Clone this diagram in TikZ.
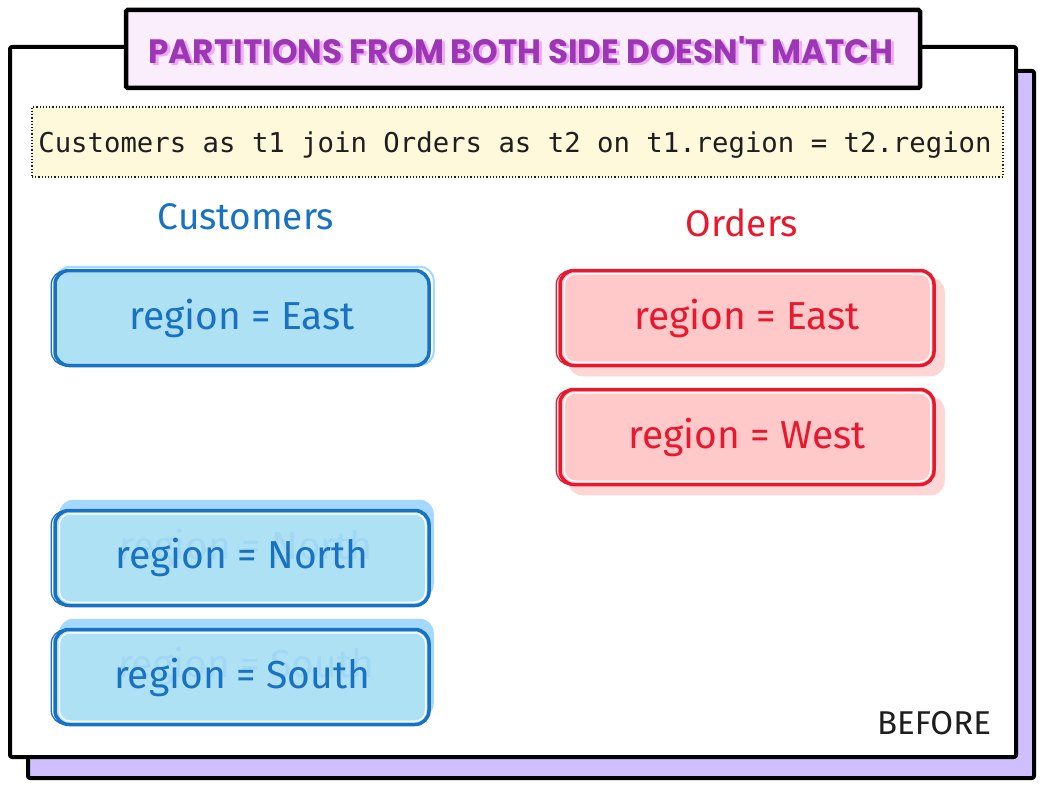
\documentclass[tikz,border=0pt]{standalone}
\usepackage{fontspec}
\setmainfont{Fira Sans}
\newfontfamily\monofont{DejaVu Sans Mono}
\newfontfamily\titlefont{Poppins}
\usetikzlibrary{calc}
\definecolor{violetbg}{HTML}{D0BFFF}
\definecolor{titlebg}{HTML}{FAEEFC}
\definecolor{titlefg}{HTML}{9C36B5}
\definecolor{titlesh}{HTML}{EEA8F7}
\definecolor{codebg}{HTML}{FFF9DB}
\definecolor{bluestroke}{HTML}{1971C2}
\definecolor{bluefill}{HTML}{AFE1F5}
\definecolor{blueshadow}{HTML}{A5D8FF}
\definecolor{blueghost}{HTML}{A0D8F3}
\definecolor{redstroke}{HTML}{E8192F}
\definecolor{redfill}{HTML}{FFC9C9}
\definecolor{redshadow}{HTML}{FFD6D6}
\definecolor{inkblack}{HTML}{1E1E1E}
\pgfdeclarelayer{bg}
\pgfdeclarelayer{shade}
\pgfsetlayers{bg,shade,main}
\tikzset{
  frameline/.style={line width=4pt, draw=black, rounded corners=2pt, line join=round},
  titlebox/.style={draw=black, line width=4.5pt, fill=titlebg, minimum width=794pt, minimum height=78pt, inner sep=0pt, rounded corners=1.5pt},
  codebox/.style={draw=inkblack, dotted, line width=1.2pt, fill=codebg, minimum width=971pt, minimum height=70pt, inner sep=0pt},
  partbox/.style={line width=3.5pt, rounded corners=14pt, minimum width=374pt, minimum height=95pt, inner sep=0pt},
  bluebox/.style={partbox, draw=bluestroke, fill=bluefill},
  redbox/.style={partbox, draw=redstroke, fill=redfill},
  boxtext/.style={font=\fontsize{39}{42}\selectfont, inner sep=0pt},
  heading/.style={font=\fontsize{37}{40}\selectfont, inner sep=0pt},
  ghost/.style={boxtext, text=blueghost},
}
\begin{document}
\begin{tikzpicture}[x=1pt,y=-1pt]
\useasboundingbox (0,0) rectangle (1043,789);
% frames
\begin{pgfonlayer}{bg}
  \fill[white] (0,0) rectangle (1043,789);
  \fill[violetbg] (28,71) rectangle (1034,778);
  \draw[frameline] (28,71) rectangle (1034,778);
  \fill[white] (10,47) rectangle (1016,757);
  \draw[frameline] (10,47) rectangle (1016,757);
\end{pgfonlayer}

% title
\node[titlebox] (title) at (523,49) {};
\node[inner sep=0pt, anchor=base, text=titlesh] (titlesh) at (524,66)
  {\resizebox{745pt}{27pt}{\titlefont\bfseries PARTITIONS FROM BOTH SIDE DOESN'T MATCH}};
\node[inner sep=0pt, anchor=base, text=titlefg] (titletext) at (521,64)
  {\resizebox{745pt}{27pt}{\titlefont\bfseries PARTITIONS FROM BOTH SIDE DOESN'T MATCH}};

% code
\node[codebox] (code) at (517.5,142) {};
\node[inner sep=0pt, text=inkblack, font=\monofont\fontsize{27.3}{30}\selectfont] (codetext) at (515,145)
  {Customers as t1 join Orders as t2 on t1.region = t2.region};

% headings
\node[heading, text=bluestroke] (cust) at (246,217) {Customers};
\node[heading, text=redstroke] (ord) at (742,223) {Orders};

% customers partitions
\node[bluebox] (ce) at (242,318) {};
\node[bluebox] (cn) at (242,558) {};
\node[bluebox] (cs) at (242,677) {};
% orders partitions
\node[redbox] (oe) at (747,318) {};
\node[redbox] (ow) at (747,437) {};

% sketchy shadows
\begin{pgfonlayer}{shade}
  \fill[blueshadow, rounded corners=14pt] ($(cn.south west)+(6,-9)$) rectangle ($(cn.north east)+(3,-9)$);
  \fill[blueshadow, rounded corners=14pt] ($(cs.south west)+(6,-9)$) rectangle ($(cs.north east)+(3,-9)$);
  \fill[redshadow, rounded corners=14pt] ($(oe.south west)+(10,9)$) rectangle ($(oe.north east)+(9,9)$);
  \fill[redshadow, rounded corners=14pt] ($(ow.south west)+(10,9)$) rectangle ($(ow.north east)+(9,9)$);
  \draw[blueshadow, line width=2pt, rounded corners=14pt] ($(ce.south west)+(3,-2)$) rectangle ($(ce.north east)+(3,-2)$);
\end{pgfonlayer}

% second rough strokes
\draw[bluestroke, line width=1.3pt, rounded corners=14pt] ($(ce.south west)+(-2,-2)$) rectangle ($(ce.north east)+(-1,2)$);
\draw[bluestroke, line width=1.3pt, rounded corners=14pt] ($(cn.south west)+(-2,-2)$) rectangle ($(cn.north east)+(-1,2)$);
\draw[bluestroke, line width=1.3pt, rounded corners=14pt] ($(cs.south west)+(-2,-2)$) rectangle ($(cs.north east)+(-1,2)$);
\draw[white, line width=1.5pt, rounded corners=11pt] ($(cn.south west)+(6,-5)$) rectangle ($(cn.north east)+(-5,5)$);
\draw[white, line width=1.5pt, rounded corners=11pt] ($(cs.south west)+(6,-5)$) rectangle ($(cs.north east)+(-5,5)$);
\draw[redstroke, line width=1.3pt, rounded corners=14pt] ($(oe.south west)+(-2,-2)$) rectangle ($(oe.north east)+(-1,2)$);
\draw[redstroke, line width=1.3pt, rounded corners=14pt] ($(ow.south west)+(-2,-2)$) rectangle ($(ow.north east)+(-1,2)$);
\draw[white, line width=1.5pt, rounded corners=11pt] ($(oe.south west)+(6,-5)$) rectangle ($(oe.north east)+(-5,5)$);
\draw[white, line width=1.5pt, rounded corners=11pt] ($(ow.south west)+(6,-5)$) rectangle ($(ow.north east)+(-5,5)$);

% ghost texts
\node[ghost] (cng) at ($(cn)+(4,-10)$) {region = North};
\node[ghost] (csg) at ($(cs)+(4,-11)$) {region = South};

% box texts
\node[boxtext, text=bluestroke] (cet) at (ce) {region = East};
\node[boxtext, text=bluestroke] (cnt) at ($(cn)+(0,-1)$) {region = North};
\node[boxtext, text=bluestroke] (cst) at (cs) {region = South};
\node[boxtext, text=redstroke] (oet) at (oe) {region = East};
\node[boxtext, text=redstroke] (owt) at (ow) {region = West};

% before label
\node[inner sep=0pt, text=inkblack, font=\fontsize{33}{36}\selectfont] (before) at (934,723) {BEFORE};
\end{tikzpicture}
\end{document}
